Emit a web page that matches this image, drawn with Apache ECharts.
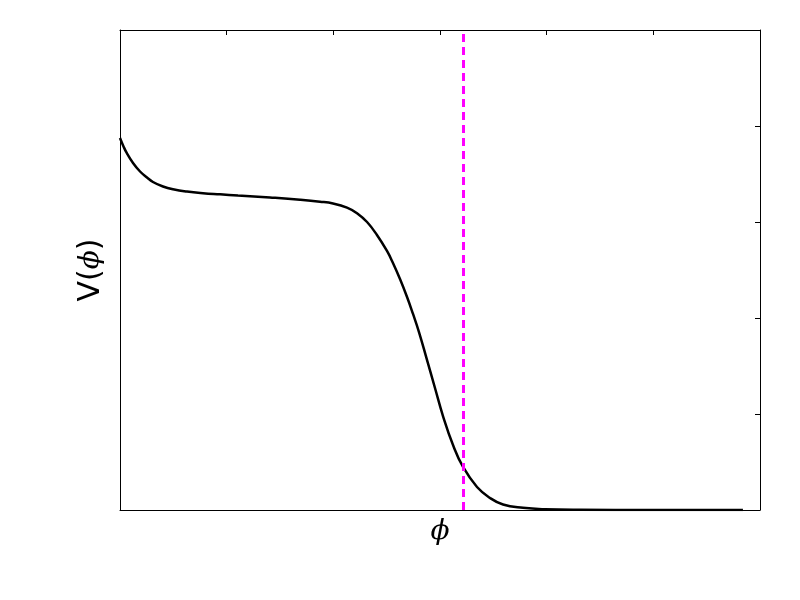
<!DOCTYPE html>
<html>
<head>
<meta charset="utf-8">
<script src="https://cdn.jsdelivr.net/npm/echarts@6/dist/echarts.min.js"></script>
<style>html,body{margin:0;padding:0;background:#fff;}#c{width:800px;height:600px;}</style>
</head>
<body>
<div id="c"></div>
<script>
// phi values (x) and V(phi) values (y)
const phi = [0, 0.031, 0.063, 0.122, 0.188, 0.253, 0.309, 0.403, 0.497, 0.628, 0.778, 0.938, 1.106, 1.406, 1.688, 1.875, 1.997, 2.128, 2.222, 2.316, 2.409, 2.503, 2.559, 2.625, 2.691, 2.747, 2.803, 2.878, 2.953, 3.028, 3.122, 3.216, 3.347, 3.469, 3.591, 3.778, 3.984, 4.313, 4.969, 5.84];
const V   = [3.875, 3.792, 3.719, 3.615, 3.526, 3.464, 3.417, 3.370, 3.341, 3.317, 3.300, 3.288, 3.276, 3.255, 3.232, 3.212, 3.193, 3.150, 3.092, 3.0, 2.865, 2.698, 2.573, 2.406, 2.219, 2.042, 1.854, 1.563, 1.271, 0.979, 0.677, 0.448, 0.240, 0.125, 0.057, 0.023, 0.008, 0.002, 0, 0];
const markerPhi = [3.216];
const xRange = [0, 6];
const yRange = [0, 5];

const chart = echarts.init(document.getElementById('c'), null, {renderer: 'canvas'});
const pts = phi.map((x, i) => [x, V[i]]);
chart.setOption({
  backgroundColor: '#fff',
  animation: false,
  grid: {left: 120, right: 40, top: 30, bottom: 90, show: false},
  xAxis: [
    {type: 'value', min: xRange[0], max: xRange[1], interval: 1, position: 'bottom',
     axisLine: {show: true, onZero: false, lineStyle: {color: '#000', width: 1}},
     axisTick: {show: false}, axisLabel: {show: false}, splitLine: {show: false},
     name: 'ϕ', nameLocation: 'middle', nameGap: 8,
     nameTextStyle: {fontFamily: 'DejaVu Serif', fontStyle: 'italic', fontSize: 28, color: '#000'}},
    {type: 'value', min: xRange[0], max: xRange[1], interval: 1, position: 'top',
     axisLine: {show: true, onZero: false, lineStyle: {color: '#000', width: 1}},
     axisTick: {show: true, inside: true, length: 5, lineStyle: {color: '#000', width: 1}},
     axisLabel: {show: false}, splitLine: {show: false}}
  ],
  yAxis: [
    {type: 'value', min: yRange[0], max: yRange[1], interval: 1, position: 'left',
     axisLine: {show: true, onZero: false, lineStyle: {color: '#000', width: 1}},
     axisTick: {show: false}, axisLabel: {show: false}, splitLine: {show: false},
     name: '{a|V(}{b|ϕ}{a|)}', nameLocation: 'middle', nameGap: 14, nameRotate: 90,
     nameTextStyle: {color: '#000', rich: {
       a: {fontFamily: 'DejaVu Sans', fontSize: 30, color: '#000'},
       b: {fontFamily: 'DejaVu Serif', fontStyle: 'italic', fontSize: 28, color: '#000'}}}},
    {type: 'value', min: yRange[0], max: yRange[1], interval: 1, position: 'right',
     axisLine: {show: true, onZero: false, lineStyle: {color: '#000', width: 1}},
     axisTick: {show: true, inside: true, length: 5, lineStyle: {color: '#000', width: 1}},
     axisLabel: {show: false}, splitLine: {show: false}}
  ],
  series: [
    {type: 'line', data: pts, xAxisIndex: 0, yAxisIndex: 0, smooth: 0.45,
     showSymbol: false, lineStyle: {color: '#000', width: 2.5}, z: 3},
    {type: 'line', data: [], xAxisIndex: 0, yAxisIndex: 0,
     markLine: {silent: true, symbol: 'none', label: {show: false},
       lineStyle: {color: '#ff00ff', width: 3, type: [8, 5]},
       data: markerPhi.map(v => ({xAxis: v}))}, z: 4}
  ]
});
</script>
</body>
</html>
